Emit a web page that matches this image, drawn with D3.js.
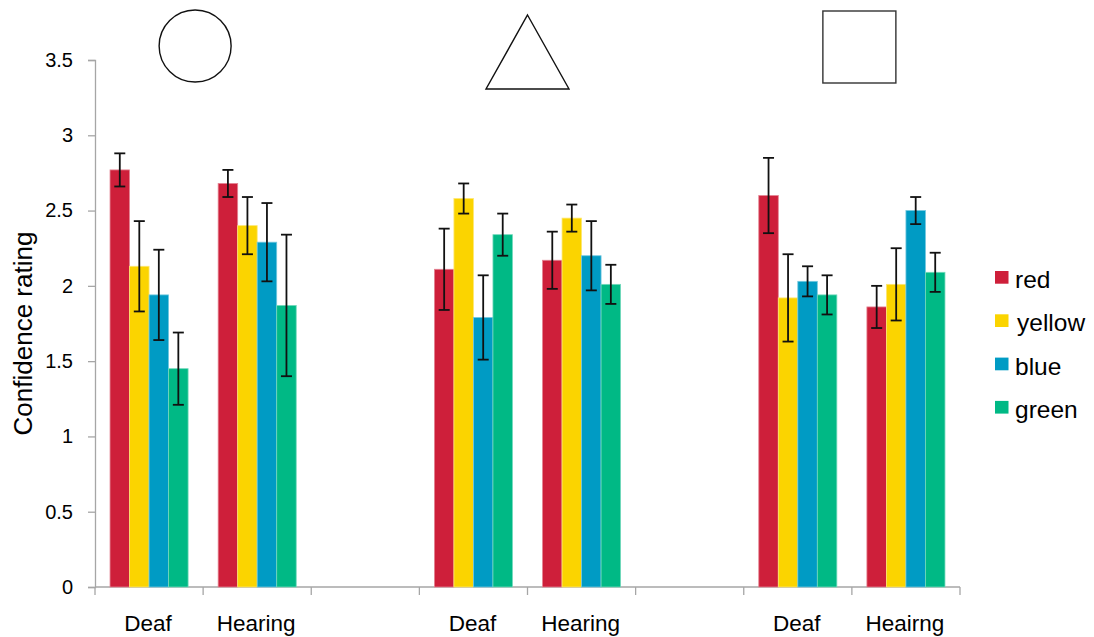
<!DOCTYPE html>
<html>
<head>
<meta charset="utf-8">
<script src="https://cdn.jsdelivr.net/npm/d3@7/dist/d3.min.js"></script>
<style>
  html, body { margin: 0; padding: 0; background: #fff; }
  svg { display: block; }
  text { font-family: "Liberation Sans", Arial, sans-serif; fill: #000; }
</style>
</head>
<body>
<svg id="chart" width="1094" height="637"></svg>
<script>
// Category slots along the x axis (empty slots separate the three shape conditions)
const categories = ["circle-Deaf", "circle-Hearing", "gap-1", "triangle-Deaf", "triangle-Hearing", "gap-2", "square-Deaf", "square-Hearing"];
const categoryLabels = ["Deaf", "Hearing", "", "Deaf", "Hearing", "", "Deaf", "Heairng"];

// Series: mean confidence rating and error (± half-length of the bar)
const seriesNames = ["red", "yellow", "blue", "green"];
const redValues    = [2.77, 2.68, null, 2.11, 2.17, null, 2.60, 1.86];
const redErrors    = [0.11, 0.09, null, 0.27, 0.19, null, 0.25, 0.14];
const yellowValues = [2.13, 2.40, null, 2.58, 2.45, null, 1.92, 2.01];
const yellowErrors = [0.30, 0.19, null, 0.10, 0.09, null, 0.29, 0.24];
const blueValues   = [1.94, 2.29, null, 1.79, 2.20, null, 2.03, 2.50];
const blueErrors   = [0.30, 0.26, null, 0.28, 0.23, null, 0.10, 0.09];
const greenValues  = [1.45, 1.87, null, 2.34, 2.01, null, 1.94, 2.09];
const greenErrors  = [0.24, 0.47, null, 0.14, 0.13, null, 0.13, 0.13];

const yTicks = [0, 0.5, 1, 1.5, 2, 2.5, 3, 3.5];
const yTitle = "Confidence rating";

const colors = { red: "#CE1F3A", yellow: "#FBD400", blue: "#009BC4", green: "#00B985" };

const seriesData = {
  red: { values: redValues, errors: redErrors },
  yellow: { values: yellowValues, errors: yellowErrors },
  blue: { values: blueValues, errors: blueErrors },
  green: { values: greenValues, errors: greenErrors }
};

const svg = d3.select("#chart");
const plot = { left: 95, right: 960, top: 60, bottom: 587 };

const x = d3.scaleBand().domain(categories).range([plot.left, plot.right]).paddingInner(0).paddingOuter(0);
const xSeries = d3.scaleBand().domain(seriesNames).range([x.bandwidth() * 0.139, x.bandwidth() * 0.861]).padding(0);
const y = d3.scaleLinear().domain([0, 3.5]).range([plot.bottom, plot.top]);

const axisColor = "#A6A6A6";

// Y axis
const yAxis = svg.append("g")
  .attr("transform", `translate(${plot.left},0)`)
  .call(d3.axisLeft(y).tickValues(yTicks).tickSize(7).tickPadding(15).tickFormat(d3.format("~g")));
yAxis.select(".domain").attr("stroke", axisColor).attr("stroke-width", 1.3);
yAxis.selectAll(".tick line").attr("stroke", axisColor).attr("stroke-width", 1.3);
yAxis.selectAll(".tick text").attr("font-size", 20).attr("font-family", "Liberation Sans, Arial, sans-serif").attr("fill", "#000");

// X axis: tick marks at the slot boundaries
const xAxisG = svg.append("g").attr("transform", `translate(0,${plot.bottom})`);
xAxisG.append("line").attr("x1", plot.left).attr("x2", plot.right).attr("stroke", axisColor).attr("stroke-width", 1.3);
const boundaries = categories.map(c => x(c)).concat([x(categories[categories.length - 1]) + x.bandwidth()]);
xAxisG.selectAll("line.tick").data(boundaries).enter().append("line")
  .attr("class", "tick")
  .attr("x1", d => d).attr("x2", d => d)
  .attr("y1", 0).attr("y2", 8)
  .attr("stroke", axisColor).attr("stroke-width", 1.3);
xAxisG.selectAll("text.cat").data(categories).enter().append("text")
  .attr("class", "cat")
  .attr("x", (d, i) => x(d) + x.bandwidth() / 2 - 1)
  .attr("y", 44)
  .attr("text-anchor", "middle")
  .attr("font-size", 22.5)
  .text((d, i) => categoryLabels[i]);

// Y axis title
svg.append("text")
  .attr("transform", `translate(32,${(plot.top + plot.bottom) / 2 + 10}) rotate(-90)`)
  .attr("text-anchor", "middle")
  .attr("font-size", 26)
  .text(yTitle);

// Bars and error bars
const barRecords = [];
categories.forEach((c, i) => {
  seriesNames.forEach(s => {
    const v = seriesData[s].values[i];
    if (v == null) return;
    barRecords.push({ cat: c, series: s, value: v, err: seriesData[s].errors[i] });
  });
});

const barsG = svg.append("g");
barsG.selectAll("rect.bar").data(barRecords).enter().append("rect")
  .attr("class", "bar")
  .attr("x", d => x(d.cat) + xSeries(d.series))
  .attr("y", d => y(d.value))
  .attr("width", xSeries.bandwidth())
  .attr("height", d => y(0) - y(d.value))
  .attr("fill", d => colors[d.series])
  .attr("stroke", d => d3.interpolateRgb(colors[d.series], "#ffffff")(0.45))
  .attr("stroke-width", 0.8);

const errG = svg.append("g").attr("stroke", "#111").attr("stroke-width", 1.8);
const capHalf = 5.5;
barRecords.forEach(d => {
  const cx = x(d.cat) + xSeries(d.series) + xSeries.bandwidth() / 2;
  const yHi = y(d.value + d.err), yLo = y(d.value - d.err);
  errG.append("line").attr("x1", cx).attr("x2", cx).attr("y1", yHi).attr("y2", yLo);
  errG.append("line").attr("x1", cx - capHalf).attr("x2", cx + capHalf).attr("y1", yHi).attr("y2", yHi);
  errG.append("line").attr("x1", cx - capHalf).attr("x2", cx + capHalf).attr("y1", yLo).attr("y2", yLo);
});

// Shape condition markers above each group
const shapesG = svg.append("g").attr("fill", "none").attr("stroke", "#111").attr("stroke-width", 1.4);
const circleX = x("circle-Hearing") - 8;
shapesG.append("circle").attr("cx", circleX).attr("cy", 46).attr("r", 36);
const triX = x("triangle-Hearing");
shapesG.append("path").attr("d", `M${triX},15 L${triX + 41.5},89 L${triX - 41.5},89 Z`);
const sqX = x("square-Hearing") + 7.5;
shapesG.append("rect").attr("x", sqX - 36.5).attr("y", 11).attr("width", 73).attr("height", 72).attr("stroke", "#333");

// Legend
const legend = svg.append("g").attr("transform", "translate(995,271)");
const legendItems = legend.selectAll("g").data(seriesNames).enter().append("g")
  .attr("transform", (d, i) => `translate(0,${i * 43.3})`);
legendItems.append("rect").attr("width", 13.5).attr("height", 12.7).attr("fill", d => colors[d]);
legendItems.append("text")
  .attr("x", (d, i) => i === 1 ? 22 : 20)
  .attr("y", 17)
  .attr("font-size", 24.5)
  .text(d => d);
</script>
</body>
</html>
